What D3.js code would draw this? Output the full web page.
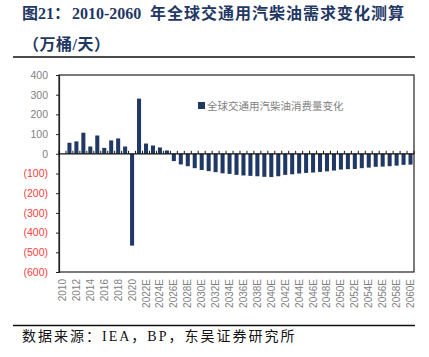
<!DOCTYPE html>
<html><head><meta charset="utf-8">
<script src="https://cdn.jsdelivr.net/npm/d3@7"></script>
<style>body{margin:0;background:#fff}svg{display:block}</style>
</head><body>
<svg id="c" width="429" height="357"></svg>
<script>
const years = ["2010","2011","2012","2013","2014","2015","2016","2017","2018","2019","2020","2021",
"2022E","2023E","2024E","2025E","2026E","2027E","2028E","2029E","2030E","2031E","2032E","2033E","2034E",
"2035E","2036E","2037E","2038E","2039E","2040E","2041E","2042E","2043E","2044E","2045E","2046E","2047E",
"2048E","2049E","2050E","2051E","2052E","2053E","2054E","2055E","2056E","2057E","2058E","2059E","2060E"];
const values = [0,56,63,107,37,93,30,68,78,37,-466,280,
52,42,32,17,-37,-54,-63,-73,-82,-88,-93,-99,-102,
-107,-110,-112,-114,-117,-118,-114,-107,-104,-100,-97,-95,-92,
-89,-85,-80,-78,-77,-73,-70,-66,-65,-63,-60,-56,-55];
const yTicks = [400,300,200,100,0,-100,-200,-300,-400,-500,-600];
const seriesName = "全球交通用汽柴油消费量变化";
const titleParts = ["图21：", "2010-2060", "年全球交通用汽柴油需求变化测算"];
const titleLine2 = "（万桶/天）";
const sourceText = "数据来源：IEA，BP，东吴证券研究所";

const svg = d3.select("#c");
const L = 59, R = 414, T = 75, B = 272;
const x = d3.scaleBand().domain(years).range([L, R]).paddingInner(0.42).paddingOuter(0.21);
const y = d3.scaleLinear().domain([-600, 400]).range([B, T]);
const serif = "'Liberation Serif','Noto Sans CJK SC',serif";
const navy = "#1F3864";

// title
const t1 = svg.append("text").attr("y", 19).attr("font-family", serif).attr("font-weight", "bold")
  .attr("font-size", 16).attr("fill", navy);
t1.append("tspan").attr("x", 22).text(titleParts[0]);
t1.append("tspan").attr("x", 72).text(titleParts[1]);
t1.append("tspan").attr("x", 150).attr("letter-spacing", 1).text(titleParts[2]);
svg.append("text").attr("x", 23).attr("y", 50).attr("font-family", serif).attr("font-weight", "bold")
  .attr("font-size", 16).attr("letter-spacing", 0.5).attr("fill", navy).text(titleLine2);
svg.append("line").attr("x1", 13).attr("x2", 415).attr("y1", 57).attr("y2", 57).attr("stroke", "#111").attr("stroke-width", 1.5);
svg.append("line").attr("x1", 13).attr("x2", 415).attr("y1", 325.5).attr("y2", 325.5).attr("stroke", "#111").attr("stroke-width", 1.5);
svg.append("text").attr("x", 22).attr("y", 341).attr("font-family", serif)
  .attr("font-size", 14).attr("letter-spacing", 2.0).attr("fill", "#111").text(sourceText);

// frame
svg.append("rect").attr("x", L).attr("y", T).attr("width", R - L).attr("height", B - T)
  .attr("fill", "none").attr("stroke", "#222").attr("stroke-width", 1.2);

// bars
svg.append("g").selectAll("rect").data(years).join("rect")
  .attr("x", d => x(d)).attr("width", x.bandwidth())
  .attr("y", (d, i) => y(Math.max(0, values[i])))
  .attr("height", (d, i) => Math.abs(y(values[i]) - y(0)))
  .attr("fill", navy);

// y axis
const yAxis = svg.append("g").attr("transform", `translate(${L},0)`)
  .call(d3.axisLeft(y).tickValues(yTicks).tickSize(3).tickPadding(8)
    .tickFormat(d => d < 0 ? `(${-d})` : d));
yAxis.select(".domain").attr("stroke", "#222").attr("stroke-width", 1.2);
yAxis.selectAll(".tick line").attr("stroke", "#222");
yAxis.selectAll(".tick text").attr("font-family", "'Liberation Sans',Arial,sans-serif").attr("font-size", 10.5)
  .attr("fill", d => d < 0 ? "#FF3B3B" : "#7F7F7F");

// zero axis with ticks at category boundaries
const zero = svg.append("g");
zero.append("line").attr("x1", L).attr("x2", R).attr("y1", y(0)).attr("y2", y(0)).attr("stroke", "#111").attr("stroke-width", 1.2);
zero.selectAll("line.t").data(d3.range(years.length + 1)).join("line").attr("class", "t")
  .attr("x1", i => L + i * (R - L) / years.length).attr("x2", i => L + i * (R - L) / years.length)
  .attr("y1", y(0) - 3).attr("y2", y(0)).attr("stroke", "#111").attr("stroke-width", 1);

// x labels
svg.append("g").selectAll("text").data(years.filter((d, i) => i % 2 === 0)).join("text")
  .attr("transform", d => `translate(${x(d) + x.bandwidth() / 2 + 3.5},279) rotate(-90)`)
  .attr("text-anchor", "end")
  .attr("font-family", "'Liberation Sans',Arial,sans-serif").attr("font-size", 10)
  .attr("fill", "#7F7F7F").text(d => d);

// legend
svg.append("rect").attr("x", 198).attr("y", 102).attr("width", 7).attr("height", 7).attr("fill", navy);
svg.append("text").attr("x", 207).attr("y", 110).attr("font-family", serif).attr("font-size", 10.5)
  .attr("fill", "#7F7F7F").text(seriesName);
</script>
</body></html>
